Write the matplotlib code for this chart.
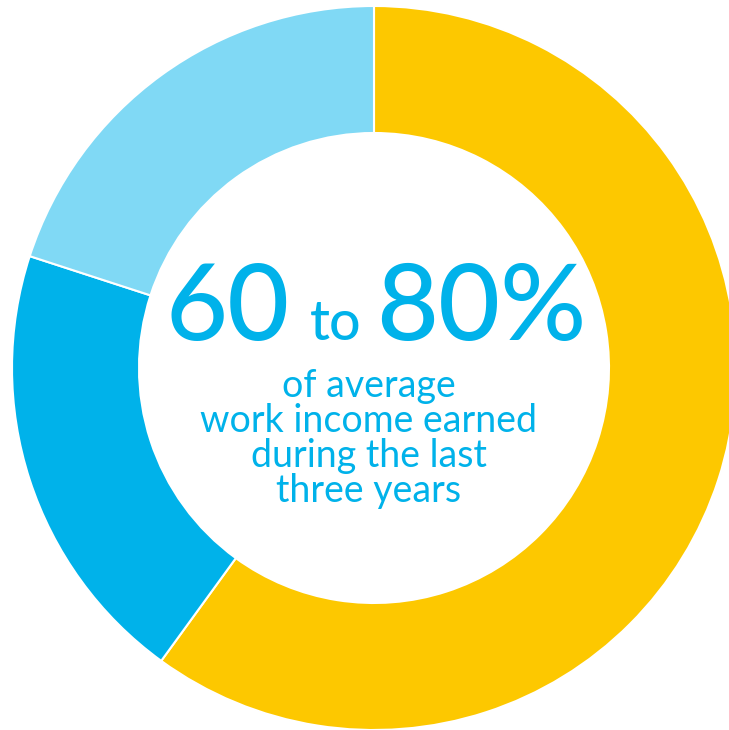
import matplotlib.pyplot as plt

shares = [60, 20, 20]
colors = ['#FDC800', '#00B2EA', '#80D9F5']
text_color = '#00B2EA'
big_parts = ['60', 'to', '80%']
sub_lines = ['of average', 'work income earned', 'during the last', 'three years']

W, H = 729, 730
fig = plt.figure(figsize=(W / 100, H / 100), dpi=100)
ax = fig.add_axes([0, 0, 1, 1])

cx, cy, r = 374, 368, 362
ax.pie(shares, colors=colors, startangle=90, counterclock=False,
       radius=r, center=(cx, -cy),
       wedgeprops=dict(width=r - 235, edgecolor='white', linewidth=1.5))
# pie resets the limits, so set them afterwards (pixel units, y flipped)
ax.set_xlim(0, W)
ax.set_ylim(-H, 0)
ax.set_aspect('equal')
ax.axis('off')

font = 'Lato'
ax.text(228, -340, big_parts[0], fontsize=77, color=text_color, family=font,
        ha='center', va='baseline', fontweight='medium')
ax.text(336, -340, big_parts[1], fontsize=40, color=text_color, family=font,
        ha='center', va='baseline', fontweight='medium')
ax.text(481, -340, big_parts[2], fontsize=77, color=text_color, family=font,
        ha='center', va='baseline', fontweight='medium')

for i, line in enumerate(sub_lines):
    ax.text(369, -(397 + i * 35), line, fontsize=27, color=text_color,
            family=font, ha='center', va='baseline')

fig.savefig('out.png', dpi=100)
